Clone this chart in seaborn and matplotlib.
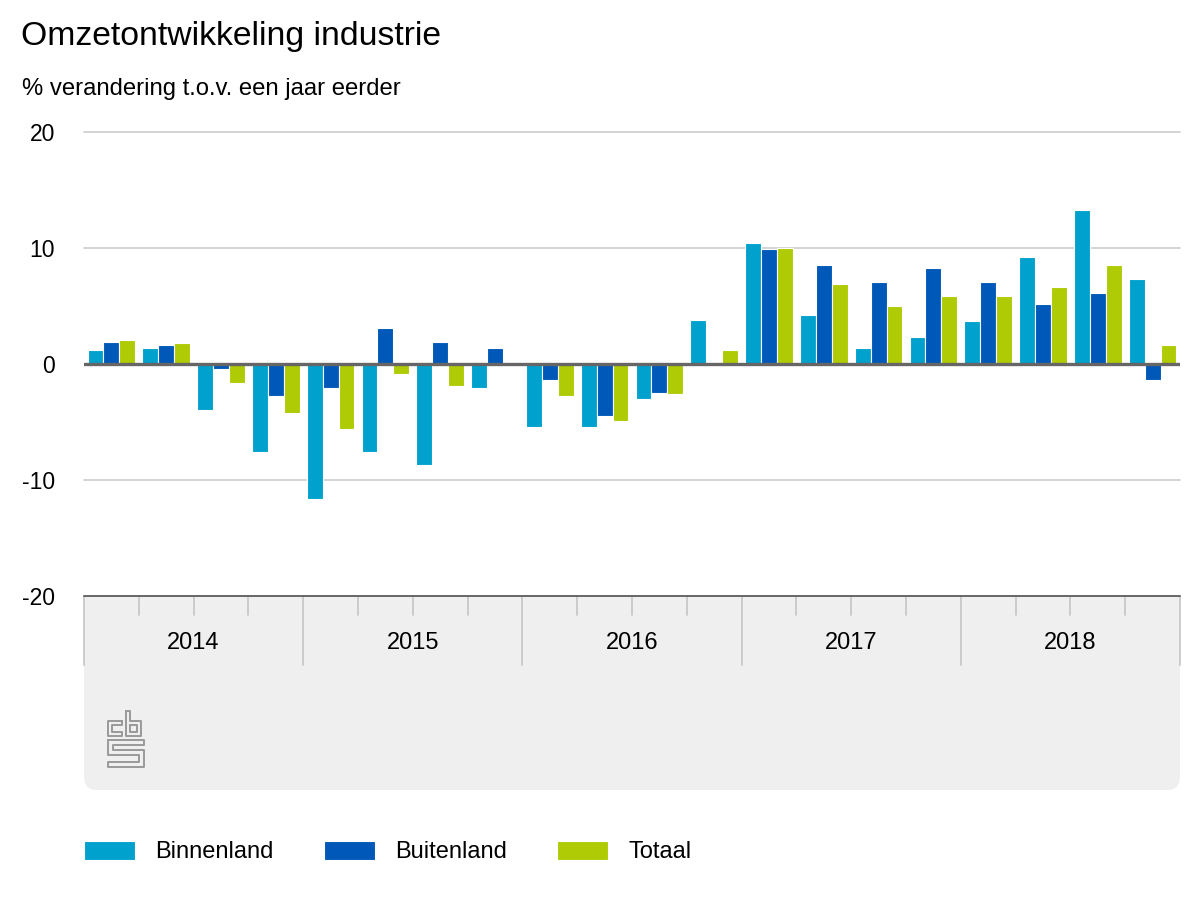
import numpy as np
import pandas as pd
import matplotlib.pyplot as plt
import matplotlib.transforms as mtransforms
from matplotlib.patches import FancyBboxPatch, Rectangle
import seaborn as sns

# Data
years = ['2014', '2015', '2016', '2017', '2018']
quarters = [f'{y} K{q}' for y in years for q in range(1, 5)]

binnenland = [1.2, 1.4, -4.0, -7.6, -11.6, -7.6, -8.7, -2.1, -5.4, -5.4,
              -3.0, 3.8, 10.4, 4.2, 1.4, 2.3, 3.7, 9.2, 13.3, 7.3]
buitenland = [1.9, 1.6, -0.4, -2.8, -2.1, 3.1, 1.9, 1.4, -1.4, -4.5,
              -2.5, -0.2, 9.9, 8.5, 7.1, 8.3, 7.1, 5.2, 6.1, -1.4]
totaal = [2.1, 1.8, -1.6, -4.2, -5.6, -0.9, -1.9, 0.1, -2.8, -4.9,
          -2.6, 1.2, 10.0, 6.9, 5.0, 5.9, 5.9, 6.6, 8.5, 1.6]

series = ['Binnenland', 'Buitenland', 'Totaal']
colors = ['#00a1cd', '#0058b8', '#afcb05']

df = pd.DataFrame({
    'kwartaal': quarters * 3,
    'reeks': [s for s in series for _ in quarters],
    'waarde': binnenland + buitenland + totaal,
})

sns.set_theme(style='white')
plt.rcParams['font.family'] = ['Liberation Sans', 'DejaVu Sans']

W, H = 1200, 900
fig = plt.figure(figsize=(12, 9), dpi=100)
ax = fig.add_axes([84 / W, 1 - 596 / H, 1096 / W, 464 / H])
ax.set_zorder(2)


def px(x, y):
    # pixel position (from top-left) -> inches for fig.dpi_scale_trans
    return x / 100, (H - y) / 100


inch = fig.dpi_scale_trans

# grey band under the plot with rounded bottom corners
band = FancyBboxPatch(px(84, 790), 10.96, 1.94, boxstyle='round,pad=0,rounding_size=0.13',
                      transform=inch, facecolor='#efefef', edgecolor='none', zorder=0)
fig.patches.append(band)
fig.patches.append(Rectangle(px(84, 640), 10.96, 0.44, transform=inch,
                             facecolor='#efefef', edgecolor='none', zorder=0))

sns.barplot(data=df, x='kwartaal', y='waarde', hue='reeks', palette=colors,
            saturation=1, width=0.87, errorbar=None, edgecolor='white',
            linewidth=0.8, ax=ax, zorder=2)

leg = ax.get_legend()
handles = leg.legend_handles
labels = [t.get_text() for t in leg.get_texts()]
leg.remove()

# grid and zero line
for v in [20, 10, -10]:
    ax.axhline(v, color='#cccccc', lw=1.2, zorder=1, clip_on=False)
ax.axhline(-20, color='#666666', lw=1.4, zorder=3, clip_on=False)
ax.axhline(0, color='#666666', lw=2.4, zorder=3)

ax.set_xlim(-0.5, 19.5)
ax.set_ylim(-20, 20)
ax.set_yticks([-20, -10, 0, 10, 20])
ax.set_yticklabels(['-20', '-10', '0', '10', '20'])
ax.tick_params(axis='y', length=0, pad=21, labelsize=16.5, labelcolor='black')
ax.set_xticks([])
ax.set_xlabel('')
ax.set_ylabel('')
sns.despine(ax=ax, left=True, bottom=True)
ax.patch.set_alpha(0)

# quarter ticks, year separators and year labels
trans = mtransforms.blended_transform_factory(ax.transData, fig.transFigure)
for k in range(21):
    xb = k - 0.5
    bottom = 665 if k % 4 == 0 else 615
    ax.plot([xb, xb], [1 - 596 / H, 1 - bottom / H], transform=trans,
            color='#c8c8c8', lw=1.3, clip_on=False, zorder=1)
for i, y in enumerate(years):
    ax.text(i * 4 + 1.5, 1 - 649 / H, y, transform=trans, ha='center',
            va='baseline', fontsize=17, color='black')

# cbs logo, drawn as outlines
logo = [
    [(122, 721), (108, 721), (108, 736), (122, 736), (122, 732), (112, 732),
     (112, 725), (122, 725), (122, 721)],
    [(126, 711), (126, 736), (141, 736), (141, 721), (130, 721), (130, 711), (126, 711)],
    [(130, 725), (137, 725), (137, 732), (130, 732), (130, 725)],
    [(108, 740), (144, 740), (144, 745), (113, 745), (113, 750), (144, 750),
     (144, 767), (108, 767), (108, 762), (139, 762), (139, 755), (108, 755), (108, 740)],
]
for path in logo:
    xs, ys = zip(*[px(a, b) for a, b in path])
    fig.add_artist(plt.Line2D(xs, ys, transform=inch, color='#999999', lw=1.4))

# titles
fig.text(21 / W, 1 - 45 / H, 'Omzetontwikkeling industrie', fontsize=24.3,
         va='baseline', color='black')
fig.text(22 / W, 1 - 95 / H, '% verandering t.o.v. een jaar eerder', fontsize=17.2,
         va='baseline', color='black')

# legend
fig.legend(handles, labels, loc='center left', bbox_to_anchor=(84 / W, 1 - 852 / H),
           ncol=3, frameon=False, fontsize=17, labelcolor='black',
           handlelength=2.15, handleheight=0.85,
           handletextpad=0.88, columnspacing=2.12, borderpad=0, borderaxespad=0)

fig.savefig('out.png', dpi=100)
